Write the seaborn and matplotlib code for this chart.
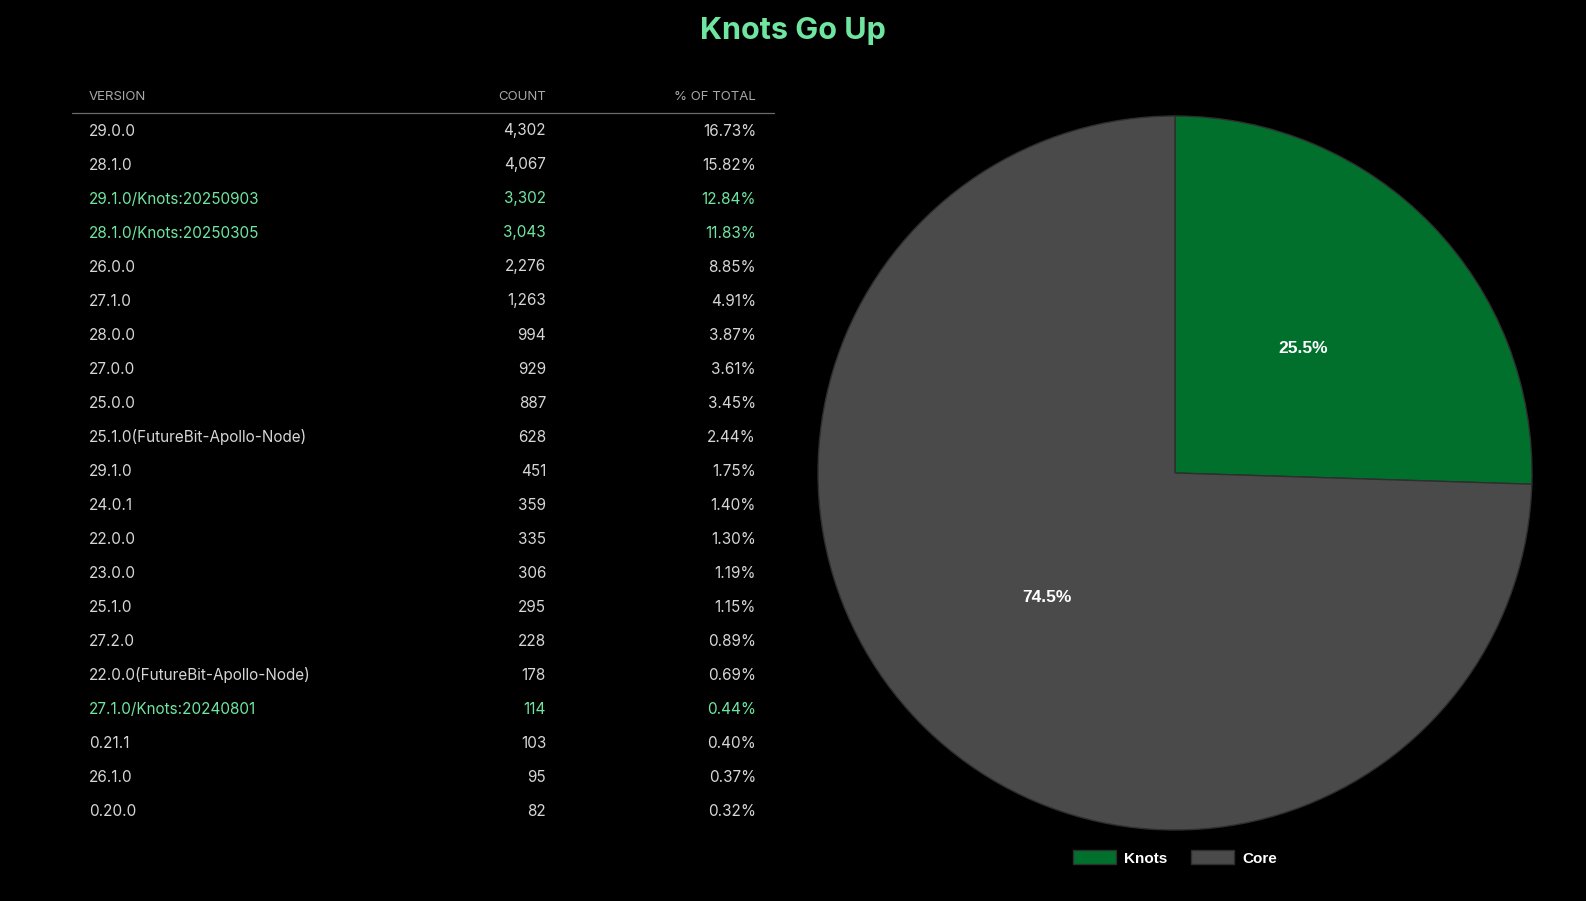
import matplotlib
matplotlib.use("Agg")
import matplotlib.pyplot as plt
import seaborn as sns
import pandas as pd

versions = ["29.0.0", "28.1.0", "29.1.0/Knots:20250903", "28.1.0/Knots:20250305",
            "26.0.0", "27.1.0", "28.0.0", "27.0.0", "25.0.0",
            "25.1.0(FutureBit-Apollo-Node)", "29.1.0", "24.0.1", "22.0.0",
            "23.0.0", "25.1.0", "27.2.0", "22.0.0(FutureBit-Apollo-Node)",
            "27.1.0/Knots:20240801", "0.21.1", "26.1.0", "0.20.0"]
counts = [4302, 4067, 3302, 3043, 2276, 1263, 994, 929, 887, 628, 451, 359,
          335, 306, 295, 228, 178, 114, 103, 95, 82]
pcts = [16.73, 15.82, 12.84, 11.83, 8.85, 4.91, 3.87, 3.61, 3.45, 2.44, 1.75,
        1.40, 1.30, 1.19, 1.15, 0.89, 0.69, 0.44, 0.40, 0.37, 0.32]

pie_labels = ["Knots", "Core"]
pie_values = [25.5, 74.5]

df = pd.DataFrame({"Version": versions, "Count": counts, "Pct": pcts})
df["Knots"] = df["Version"].str.contains("Knots")

BG = "black"
GREEN_TXT = "#6fe6a0"
ROW_TXT = "#d6d6d6"
HEAD_TXT = "#a8a8a8"
pie_colors = ["#00702c", "#4a4a4a"]

sns.set_theme(style="dark", rc={"figure.facecolor": BG, "axes.facecolor": BG,
                                "savefig.facecolor": BG})
plt.rcParams["font.family"] = ["Inter", "DejaVu Sans"]

W, H = 1586, 901
fig = plt.figure(figsize=(W / 100, H / 100), dpi=100)

# -------- table (pixel coords) --------
ax_t = fig.add_axes([0, 0, 1, 1])
ax_t.set_xlim(0, W)
ax_t.set_ylim(H, 0)
ax_t.axis("off")

x_ver, x_cnt, x_pct = 89, 546, 756
head_y, row0, step = 97.5, 131, 34.0

for x, txt, ha in [(x_ver, "VERSION", "left"), (x_cnt, "COUNT", "right"),
                   (x_pct, "% OF TOTAL", "right")]:
    ax_t.text(x, head_y, txt, ha=ha, va="center", fontsize=9.5, color=HEAD_TXT)
ax_t.plot([72, 774], [112.5, 112.5], color="#6a6a6a", lw=0.9)

for i, row in df.iterrows():
    y = row0 + i * step
    c = GREEN_TXT if row["Knots"] else ROW_TXT
    ax_t.text(x_ver, y, row["Version"], ha="left", va="center", fontsize=11, color=c)
    ax_t.text(x_cnt, y, f"{row['Count']:,}", ha="right", va="center", fontsize=11, color=c)
    ax_t.text(x_pct, y, f"{row['Pct']:.2f}%", ha="right", va="center", fontsize=11, color=c)

fig.text(0.5, 1 - 31 / H, "Knots Go Up", ha="center", va="center",
         fontsize=22, fontweight="bold", color=GREEN_TXT)

# -------- pie --------
cx, cy, r = 1175, 473, 357
ax_p = fig.add_axes([(cx - r) / W, (H - cy - r) / H, 2 * r / W, 2 * r / H])
wedges, _, autotexts = ax_p.pie(
    pie_values, colors=pie_colors, startangle=90, counterclock=False,
    autopct="%1.1f%%", pctdistance=0.5,
    wedgeprops={"edgecolor": "#2e2e2e", "linewidth": 1.0})
for t in autotexts:
    t.set_color("white")
    t.set_fontsize(12.5)
    t.set_fontweight("bold")
    t.set_family(["Liberation Sans", "DejaVu Sans"])
ax_p.set_xlim(-1, 1)
ax_p.set_ylim(-1, 1)
ax_p.set_aspect("equal")

leg = fig.legend(wedges, pie_labels, loc="center", ncol=2, frameon=False,
                 bbox_to_anchor=(cx / W, 1 - 858 / H), handlelength=2.8,
                 handleheight=1.0, columnspacing=1.6, handletextpad=0.5,
                 prop={"family": ["Liberation Sans", "DejaVu Sans"],
                       "weight": "bold", "size": 11})
for t in leg.get_texts():
    t.set_color("white")

fig.savefig("out.png", dpi=100, facecolor=BG)
